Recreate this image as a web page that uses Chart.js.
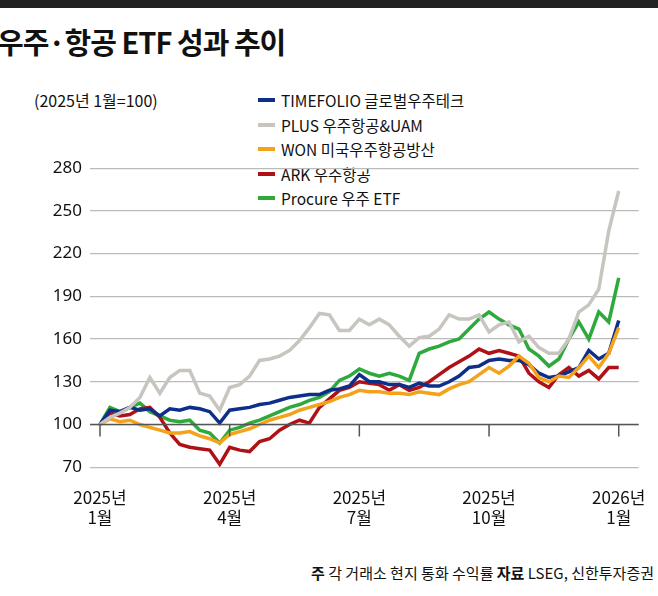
<!DOCTYPE html>
<html><head><meta charset="utf-8">
<script src="https://cdn.jsdelivr.net/npm/chart.js@4/dist/chart.umd.min.js"></script>
<style>
body{margin:0;width:658px;height:596px;background:#fff;position:relative;overflow:hidden;font-family:"Noto Sans CJK KR",sans-serif;color:#111}
#bar{position:absolute;left:0;top:0;width:658px;height:8px;background:#222}
#title{position:absolute;left:-3px;top:20px;font-size:29px;font-weight:700;letter-spacing:-1px}
#sub{position:absolute;left:34px;top:88px;font-size:16px}
#legend{position:absolute;left:258px;top:88px;font-size:15.5px;line-height:24.5px}
#legend div{display:flex;align-items:center}
#legend span.m{display:inline-block;width:17px;height:4px;margin-right:6px}
#foot{position:absolute;right:4px;top:562px;font-size:15px}
#wrap{position:absolute;left:0;top:150px;width:658px;height:390px}
</style></head><body>
<div id="bar"></div>
<div id="title">우주·항공 ETF 성과 추이</div>
<div id="sub">(2025년 1월=100)</div>
<div id="legend"></div>
<div id="wrap"><canvas id="c"></canvas></div>
<div id="foot"><b>주</b> 각 거래소 현지 통화 수익률 <b>자료</b> LSEG, 신한투자증권</div>
<script>
const seriesNames=["TIMEFOLIO 글로벌우주테크","PLUS 우주항공&UAM","WON 미국우주항공방산","ARK 우주항공","Procure 우주 ETF"];
const tickLabels=[["2025년","1월"],["2025년","4월"],["2025년","7월"],["2025년","10월"],["2026년","1월"]];
const tickIdx=[0,13,26,39,52];
const timefolio=[100,110,109,112,110,111,106,111,110,112,111,109,101,110,111,112,114,115,117,119,120,121,121,124,125,127,135,130,130,128,128,126,129,127,127,130,134,140,141,145,146,145,145,142,136,133,134,137,140,152,146,150,173];
const plus=[100,105,108,112,119,133,122,133,138,138,122,120,110,126,128,134,145,146,148,152,159,168,178,177,166,166,174,170,174,170,162,155,161,162,167,177,174,174,177,165,170,172,158,162,154,150,150,160,179,184,195,236,264];
const won=[100,104,102,103,100,98,96,94,94,95,92,90,87,93,95,97,100,103,105,107,110,112,114,116,119,121,124,123,123,122,122,121,123,122,121,125,128,130,135,140,136,141,148,143,133,130,134,133,140,148,140,150,168];
const ark=[100,108,106,107,111,112,105,94,86,84,83,82,72,84,82,81,88,90,96,100,103,101,112,118,124,126,130,129,128,124,128,124,126,130,135,140,144,148,153,150,152,150,148,136,130,126,135,140,134,138,132,140,140];
const procure=[100,112,109,112,115,109,106,103,102,103,96,94,87,96,98,101,103,106,109,112,114,117,119,123,131,134,139,136,134,136,134,131,150,153,155,158,160,167,174,179,174,170,167,153,148,141,146,160,172,160,179,172,203];
const colors=["#0d2f8a","#c8c4bf","#f5a21b","#b01116","#2eaa3c"];
const data=[timefolio,plus,won,ark,procure];
const order=[1,2,0,3,4];
document.getElementById('legend').innerHTML=seriesNames.map((n,i)=>`<div><span class="m" style="background:${colors[i]}"></span>${n}</div>`).join('');
const datasets=order.map(i=>({label:seriesNames[i],data:data[i].map((v,k)=>({x:k,y:v})),borderColor:colors[i],borderWidth:3.5,pointRadius:0,tension:0}));
const tickPlugin={id:'tk',afterDatasetsDraw(ch){const x=ch.scales.x,y=ch.scales.y,c=ch.ctx;const py=y.getPixelForValue(100);c.save();c.strokeStyle='#555';c.lineWidth=1.5;c.beginPath();c.moveTo(ch.chartArea.left,py);c.lineTo(ch.chartArea.right,py);tickIdx.forEach(t=>{const px=x.getPixelForValue(t);c.moveTo(px,py);c.lineTo(px,py+12);});c.stroke();c.restore();}};
new Chart(document.getElementById('c'),{type:'line',data:{datasets},plugins:[tickPlugin],
options:{responsive:true,maintainAspectRatio:false,animation:false,
layout:{padding:{top:17,right:16,left:0,bottom:0}},
plugins:{legend:{display:false},tooltip:{enabled:false}},
scales:{
x:{type:'linear',min:-1,max:54,grid:{display:false},border:{display:false},
afterBuildTicks(s){s.ticks=tickIdx.map(v=>({value:v}));},
ticks:{autoSkip:false,maxRotation:0,padding:12,color:'#111',font:{size:17,family:'"Noto Sans CJK KR"'},callback:(v)=>tickLabels[tickIdx.indexOf(v)]}},
y:{min:70,max:280,grid:{color:'#bbb',lineWidth:1.2,drawTicks:false},border:{display:false},
afterFit(s){s.width=90;},
ticks:{stepSize:30,padding:8,color:'#111',font:{size:17,family:'"Liberation Sans Narrow","Noto Sans"'}}}}}});
</script></body></html>
